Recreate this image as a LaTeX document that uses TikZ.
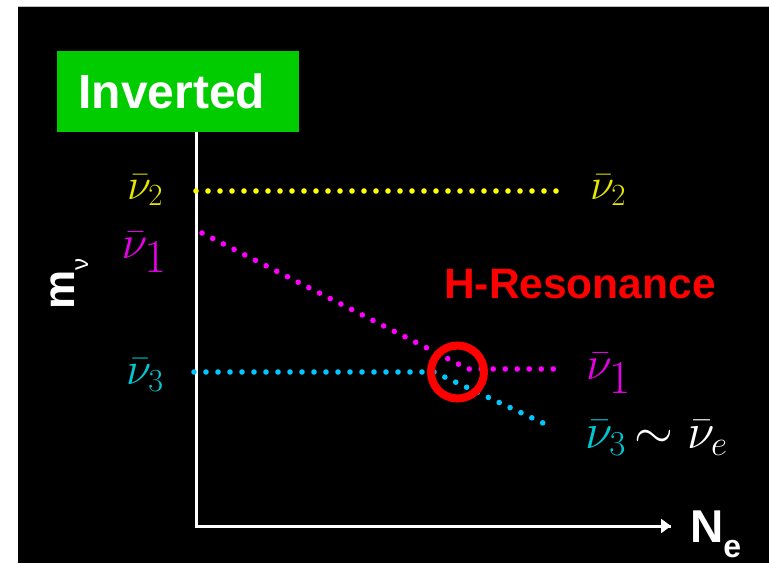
\RequirePackage{fix-cm}
\documentclass[tikz,border=0pt]{standalone}
\usepackage{fontspec}
\setsansfont{Liberation Sans}
\usetikzlibrary{arrows.meta}
\definecolor{boxgreen}{RGB}{0,204,0}
\definecolor{dotyellow}{RGB}{255,255,0}
\definecolor{dotmagenta}{RGB}{255,0,255}
\definecolor{dotcyan}{RGB}{0,200,255}
\definecolor{labyellow}{RGB}{230,230,0}
\definecolor{labmagenta}{RGB}{230,0,230}
\definecolor{labcyan}{RGB}{0,200,210}
\definecolor{resred}{RGB}{255,0,0}
\begin{document}
\begin{tikzpicture}[x=1pt,y=-1pt,
  dotline/.style={line width=5.6pt,line cap=round,dash pattern=on 0pt off 12pt},
  axisline/.style={white,line width=3pt},
  mathlab/.style={inner sep=0pt,font=\fontsize{#1}{#1}\selectfont},
  sanslab/.style={inner sep=0pt,font=\sffamily\bfseries\fontsize{#1}{#1}\selectfont},
]
\useasboundingbox (0,0) rectangle (769,563);
\fill[white] (0,0) rectangle (769,563);
\fill[black] (18,6) rectangle (769,563);
\draw[gray!50,line width=1pt] (18,6.5) -- (769,6.5);

% title box
\node (inv) [anchor=north west,fill=boxgreen,minimum width=242pt,minimum height=81pt,inner sep=0pt,
  text=white,font=\sffamily\bfseries\fontsize{48}{48}\selectfont] at (57,51) {Inverted\hspace*{13pt}};

% axes
\coordinate (ytop) at (196,132);
\coordinate (orig) at (196,526);
\coordinate (xend) at (671,526);
\draw[axisline] (ytop) -- (orig) -- (xend);
\draw[white,line width=3pt,-{Triangle[length=10pt,width=14pt]}] (orig) -- (xend);

% level coordinates
\coordinate (y1) at (196,191);
\coordinate (y2) at (560,191);
\coordinate (m1) at (202,233);
\coordinate (m2) at (468,369);
\coordinate (m3) at (556,369);
\coordinate (c1) at (194,372);
\coordinate (c2) at (434,372);
\coordinate (c3) at (543,423);

\draw[dotline,dotyellow] (y1) -- (y2);
\draw[dotline,dotmagenta] (m1) -- (m2) -- (m3);
\draw[dotline,dotcyan] (c1) -- (c2) -- (c3);

% resonance circle
\node (res) [draw=resred,line width=8pt,circle,minimum size=53pt,inner sep=0pt] at (457.5,372) {};

% left labels
\node (l2) [mathlab=44,text=labyellow] at (145,190) {$\bar\nu_2$};
\node (l1) [mathlab=47,text=labmagenta] at (144,252) {$\bar\nu_{\textstyle 1}$};
\node (l3) [mathlab=46,text=labcyan] at (145,375) {$\bar\nu_3$};

% right labels
\node (r2) [mathlab=44,text=labyellow,anchor=west] at (590,190) {$\bar\nu_2$};
\node (r1) [mathlab=47,text=labmagenta,anchor=west] at (586,373) {$\bar\nu_{\textstyle 1}$};
\node (r3) [mathlab=50,text=white,anchor=west] at (585,438) {$\textcolor{labcyan}{\bar\nu_3}\,{\sim}\;\bar\nu_e$};

% text labels
\node (hres) [sanslab=42.5,text=resred,anchor=base west] at (444,298) {H-Resonance};
\node (ne) [sanslab=46,text=white,anchor=base west] at (690,542) {N\raisebox{-15pt}{\fontsize{32}{32}\selectfont e}};
\node (mnu) [sanslab=44,text=white,anchor=base west,rotate=90] at (74,310) {m\raisebox{-14pt}{\fontsize{24}{24}\mdseries\selectfont ν}};
\end{tikzpicture}
\end{document}
